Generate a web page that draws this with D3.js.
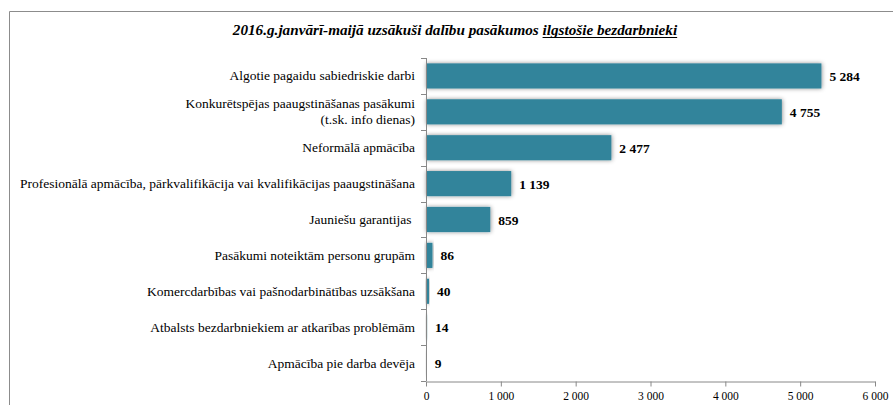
<!DOCTYPE html>
<html>
<head>
<meta charset="utf-8">
<script src="https://cdn.jsdelivr.net/npm/d3@7"></script>
<style>
  body { margin: 0; background: #fff; }
  svg { display: block; }
</style>
</head>
<body>
<svg id="chart" width="893" height="405"></svg>
<script>
var categories = [
    ['Algotie pagaidu sabiedriskie darbi'],
    ['Konkurētspējas paaugstināšanas pasākumi', '(t.sk. info dienas)'],
    ['Neformālā apmācība'],
    ['Profesionālā apmācība, pārkvalifikācija vai kvalifikācijas paaugstināšana'],
    ['Jauniešu garantijas\u00a0'],
    ['Pasākumi noteiktām personu grupām'],
    ['Komercdarbības vai pašnodarbinātības uzsākšana'],
    ['Atbalsts bezdarbniekiem ar atkarības problēmām'],
    ['Apmācība pie darba devēja']
];
var values = [5284, 4755, 2477, 1139, 859, 86, 40, 14, 9];
var xTicks = [0, 1000, 2000, 3000, 4000, 5000, 6000];
var titleParts = ['2016.g.janvārī-maijā uzsākuši dalību pasākumos\u00a0', 'ilgstošie bezdarbnieki'];

var width = 893, height = 405;
var margin = {top: 58, right: 18, bottom: 24, left: 426};
var axisColor = '#888888';
var serif = 'Liberation Serif';

var svg = d3.select('#chart');

var lv = d3.formatLocale({decimal: ',', thousands: ' ', grouping: [3], currency: ['', '']});
var fmt = lv.format(',d');

// frame (only top and left edge fall inside the picture)
svg.append('path')
    .attr('d', 'M9.5,405V11.5H893')
    .attr('fill', 'none')
    .attr('stroke', '#8c8c8c');

// title
var titleX = 455, titleY = 35;
var title = svg.append('text')
    .attr('x', titleX).attr('y', titleY)
    .attr('text-anchor', 'middle')
    .attr('font-family', serif)
    .attr('font-size', 15.2)
    .attr('font-weight', 'bold')
    .attr('font-style', 'italic');
title.append('tspan').text(titleParts[0]);
var under = title.append('tspan').text(titleParts[1]);
var total = title.node().getComputedTextLength();
var part = under.node().getComputedTextLength();
svg.append('line')
    .attr('x1', titleX + total / 2 - part).attr('x2', titleX + total / 2)
    .attr('y1', titleY + 2.5).attr('y2', titleY + 2.5)
    .attr('stroke', '#000').attr('stroke-width', 1);

var defs = svg.append('defs');
var f = defs.append('filter').attr('id', 'shadow')
    .attr('x', '-20%').attr('y', '-40%').attr('width', '140%').attr('height', '180%');
f.append('feDropShadow')
    .attr('dx', 0.5).attr('dy', 0)
    .attr('stdDeviation', 2)
    .attr('flood-color', '#000')
    .attr('flood-opacity', 0.45);

var x = d3.scaleLinear()
    .domain([0, 6000])
    .range([margin.left, width - margin.right]);

var y = d3.scaleBand()
    .domain(d3.range(categories.length))
    .range([margin.top, height - margin.bottom])
    .paddingInner(0.3)
    .paddingOuter(0.15);

// bars
svg.append('g')
    .selectAll('rect')
    .data(values)
    .enter()
    .append('rect')
    .attr('x', x(0))
    .attr('y', function(d, i) { return y(i); })
    .attr('width', function(d) { return x(d) - x(0); })
    .attr('height', y.bandwidth())
    .attr('fill', '#31849b')
    .attr('filter', 'url(#shadow)');

// y axis line and ticks at band boundaries
var yAxis = svg.append('g').attr('stroke', axisColor);
yAxis.append('line')
    .attr('x1', x(0) + 0.5).attr('x2', x(0) + 0.5)
    .attr('y1', margin.top).attr('y2', height - margin.bottom);
var step = (height - margin.bottom - margin.top) / categories.length;
yAxis.selectAll('line.tick')
    .data(d3.range(categories.length + 1))
    .enter()
    .append('line')
    .attr('class', 'tick')
    .attr('x1', x(0) - 5).attr('x2', x(0))
    .attr('y1', function(i) { return Math.round(margin.top + i * step) + 0.5; })
    .attr('y2', function(i) { return Math.round(margin.top + i * step) + 0.5; });

// category labels
var labels = svg.append('g')
    .selectAll('text')
    .data(categories)
    .enter()
    .append('text')
    .attr('text-anchor', 'end')
    .attr('font-family', serif)
    .attr('font-size', 13.5)
    .attr('fill', '#000')
    .attr('y', function(d, i) { return y(i) + y.bandwidth() / 2; });
labels.each(function(lines) {
    var t = d3.select(this);
    var n = lines.length;
    lines.forEach(function(s, k) {
        t.append('tspan')
            .attr('x', x(0) - 11)
            .attr('dy', k === 0 ? ((-(n - 1) * 8) + 4.5) : 16)
            .text(s);
    });
});

// value labels
svg.append('g')
    .selectAll('text')
    .data(values)
    .enter()
    .append('text')
    .attr('x', function(d) { return x(d) + 8; })
    .attr('y', function(d, i) { return y(i) + y.bandwidth() / 2 + 5; })
    .attr('font-family', serif)
    .attr('font-size', 13.5)
    .attr('font-weight', 'bold')
    .text(function(d) { return fmt(d); });

// x axis
var xAxis = svg.append('g')
    .attr('transform', 'translate(0,' + (height - margin.bottom + 0.5) + ')')
    .call(d3.axisBottom(x).tickValues(xTicks).tickSizeInner(5).tickSizeOuter(0).tickFormat(fmt));
xAxis.attr('font-family', serif).attr('font-size', 11.5);
xAxis.select('.domain').attr('stroke', axisColor);
xAxis.selectAll('.tick line').attr('stroke', axisColor);
xAxis.selectAll('.tick text')
    .attr('fill', '#000')
    .attr('dy', '0.9em');
</script>
</body>
</html>
